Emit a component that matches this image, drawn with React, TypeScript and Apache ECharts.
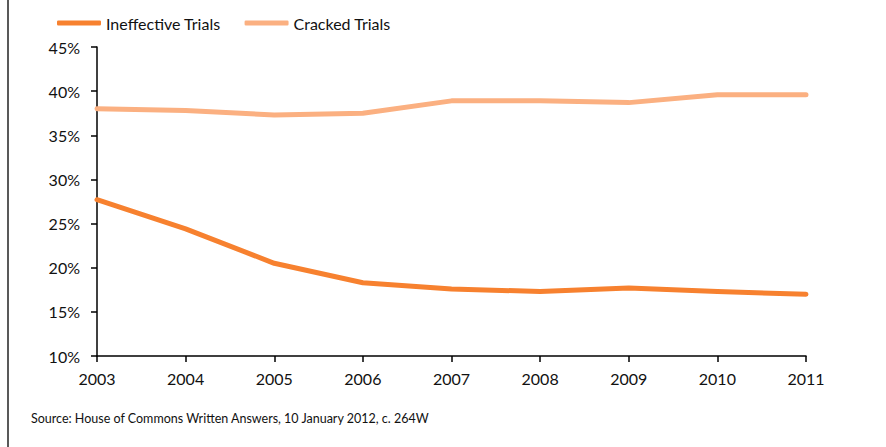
import React, { useEffect, useRef } from "react";
import * as echarts from "echarts";

const years = ["2003", "2004", "2005", "2006", "2007", "2008", "2009", "2010", "2011"];
const ineffective = [27.7, 24.4, 20.5, 18.3, 17.6, 17.3, 17.7, 17.3, 17.0];
const cracked = [38.0, 37.8, 37.3, 37.5, 38.9, 38.9, 38.7, 39.6, 39.6];
const sourceText = "Source: House of Commons Written Answers, 10 January 2012, c. 264W";

const FONT = "Lato, 'Open Sans', sans-serif";

export default function App() {
  const ref = useRef<HTMLDivElement>(null);
  useEffect(() => {
    if (!ref.current) return;
    const chart = echarts.init(ref.current, null, { renderer: "svg" });
    chart.setOption({
      animation: false,
      backgroundColor: "#ffffff",
      textStyle: { fontFamily: FONT },
      legend: {
        left: 52,
        top: 10,
        itemWidth: 44,
        itemHeight: 5,
        itemGap: 24,
        icon: "roundRect",
        textStyle: { fontSize: 16, color: "#111", fontFamily: FONT },
        data: ["Ineffective Trials", "Cracked Trials"],
      },
      grid: { left: 97, right: 80, top: 47, bottom: 91 },
      xAxis: {
        type: "category",
        data: years,
        boundaryGap: false,
        axisLine: { lineStyle: { color: "#000", width: 1.5 } },
        axisTick: { alignWithLabel: true, length: 6, lineStyle: { color: "#000", width: 1.5 } },
        axisLabel: { color: "#111", fontSize: 16, margin: 14, fontFamily: FONT },
      },
      yAxis: {
        type: "value",
        min: 10,
        max: 45,
        interval: 5,
        axisLine: { show: true, lineStyle: { color: "#000", width: 1.5 } },
        axisTick: { show: true, inside: false, length: 6, lineStyle: { color: "#000", width: 1.5 } },
        splitLine: { show: false },
        axisLabel: { color: "#111", fontSize: 16, margin: 17, formatter: "{value}%", fontFamily: FONT },
      },
      series: [
        {
          name: "Ineffective Trials",
          type: "line",
          data: ineffective,
          showSymbol: false,
          symbol: "none",
          lineStyle: { color: "#F7812F", width: 5, cap: "round", join: "round" },
          itemStyle: { color: "#F7812F" },
        },
        {
          name: "Cracked Trials",
          type: "line",
          data: cracked,
          showSymbol: false,
          symbol: "none",
          lineStyle: { color: "#FBB081", width: 5, cap: "round", join: "round" },
          itemStyle: { color: "#FBB081" },
        },
      ],
      graphic: [
        {
          type: "line",
          shape: { x1: 8, y1: 0, x2: 8, y2: 447 },
          style: { stroke: "#222", lineWidth: 1.5 },
        },
        {
          type: "text",
          left: 31,
          top: 412,
          style: { text: sourceText, fontSize: 12.5, fill: "#111", fontFamily: FONT },
        },
      ],
    });
    return () => chart.dispose();
  }, []);
  return (
    <div
      ref={ref}
      style={{ position: "fixed", left: 0, top: 0, width: 886, height: 447 }}
    />
  );
}
